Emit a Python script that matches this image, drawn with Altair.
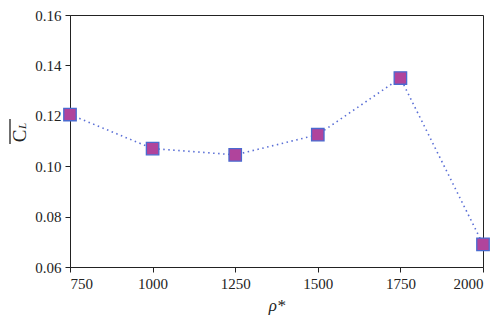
import altair as alt
import pandas as pd

rho = [750, 1000, 1250, 1500, 1750, 2000]
cl = [0.1205, 0.107, 0.1045, 0.1125, 0.135, 0.069]
x_ticks = [750, 1000, 1250, 1500, 1750, 2000]
y_ticks = [0.06, 0.08, 0.10, 0.12, 0.14, 0.16]

df = pd.DataFrame({"rho": rho, "cl": cl})
FONT = "Liberation Serif"

x = alt.X("rho:Q", scale=alt.Scale(domain=[750, 2000], nice=False, zero=False),
          axis=alt.Axis(values=x_ticks, title="ρ*", titleFontStyle="italic",
                        titleFontWeight="normal", titleFontSize=17, titleFont=FONT,
                        titlePadding=6, labelFont=FONT, labelFontSize=15,
                        labelPadding=4, tickSize=5, grid=False, format="d",
                        domainColor="#222", tickColor="#222", labelColor="#222",
                        titleColor="#222"))
y = alt.Y("cl:Q", scale=alt.Scale(domain=[0.06, 0.16], nice=False, zero=False),
          axis=alt.Axis(values=y_ticks, title=None, labelFont=FONT, labelFontSize=15,
                        labelPadding=4, tickSize=5, grid=False, format=".2f",
                        domainColor="#222", tickColor="#222", labelColor="#222"))

base = alt.Chart(df)
line = base.mark_line(color="#5a6fd6", strokeDash=[1.5, 3.5], strokeWidth=1.6).encode(x=x, y=y)
pts = base.mark_point(shape="square", filled=True, fill="#b0449c", stroke="#4a6ad0",
                      strokeWidth=1.3, opacity=1, size=155).encode(x=x, y=y)

one = alt.Data(values=[{"a": 1}])
tC = alt.Chart(one).mark_text(text="C", font=FONT, fontSize=19, angle=270,
                              baseline="middle", align="center", color="#222").encode(
    x=alt.value(-50), y=alt.value(121))
tL = alt.Chart(one).mark_text(text="L", font=FONT, fontSize=11, fontStyle="italic", angle=270,
                              baseline="middle", align="center", color="#222").encode(
    x=alt.value(-47), y=alt.value(111))
bar = alt.Chart(one).mark_rule(color="#222", strokeWidth=1.3).encode(
    x=alt.value(-60), y=alt.value(104), y2=alt.value(129))

chart = alt.layer(line, pts, tC, tL, bar).properties(
    width=413, height=252,
    padding={"left": 62, "top": 7, "right": 9, "bottom": 48},
    autosize=alt.AutoSizeParams(type="none"),
).configure_view(stroke="#222", strokeWidth=1)

chart.save("out.html", embed_options={"renderer": "svg", "actions": False})
